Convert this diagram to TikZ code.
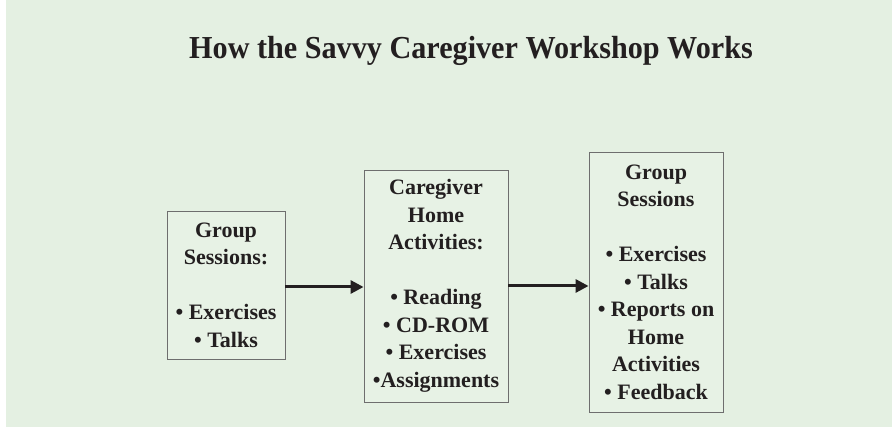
\documentclass[tikz,border=0pt]{standalone}
\usepackage{fontspec}
\setmainfont{Liberation Serif}
\newfontfamily\titlefont[FakeStretch=0.943]{Liberation Serif}
\usetikzlibrary{arrows.meta}
\definecolor{bggreen}{RGB}{228,240,226}
\definecolor{boxfill}{RGB}{231,242,229}
\definecolor{txt}{RGB}{35,31,32}
\definecolor{edge}{RGB}{110,110,110}
\tikzset{
  stagebox/.style={draw=edge, line width=0.9pt, fill=boxfill, inner sep=0pt, align=center,
    text=txt, font=\bfseries\fontsize{22}{27.5}\selectfont},
  flowarrow/.style={draw=txt, line width=3pt, -{Triangle[length=13pt,width=13pt]}}
}
\begin{document}
\begin{tikzpicture}[x=1pt,y=1pt]
\useasboundingbox (0,0) rectangle (892,427);
\fill[bggreen] (0,0) rectangle (892,427);
\fill[white] (0,0) rectangle (6,427);
\node[anchor=base, text=txt, font=\titlefont\bfseries\fontsize{32}{38}\selectfont] (title) at (471,368) {How the Savvy Caregiver Workshop Works};
\node[stagebox, minimum width=118pt, minimum height=148pt] (b1) at (226,142) {Group\\Sessions:\\[27.5pt]• Exercises\\• Talks};
\node[stagebox, minimum width=144pt, minimum height=232pt] (b2) at (436,141) {Caregiver\\Home\\Activities:\\[27.5pt]• Reading\\• CD-ROM\\• Exercises\\•Assignments};
\node[stagebox, minimum width=134pt, minimum height=260pt] (b3) at (656,145) {Group\\Sessions\\[27.5pt]• Exercises\\• Talks\\• Reports on\\Home\\Activities\\• Feedback};
\draw[flowarrow] (b1.east |- 0,140) -- (b2.west |- 0,140);
\draw[flowarrow] (b2.east |- 0,141) -- (b3.west |- 0,141);
\end{tikzpicture}
\end{document}
